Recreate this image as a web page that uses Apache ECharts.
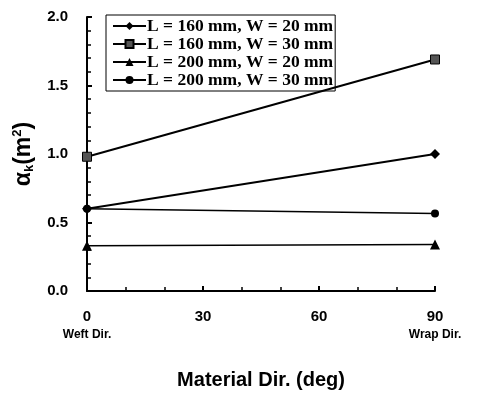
<!DOCTYPE html>
<html><head><meta charset="utf-8">
<script src="https://cdn.jsdelivr.net/npm/echarts@6/dist/echarts.min.js"></script>
<style>html,body{margin:0;padding:0;background:#fff}#c{width:479px;height:395px}</style>
</head><body><div id="c"></div>
<script>
const xValues = [0, 90];
const seriesNames = ['L = 160 mm, W = 20 mm','L = 160 mm, W = 30 mm','L = 200 mm, W = 20 mm','L = 200 mm, W = 30 mm'];
const s1 = [0.60, 1.00];
const s2 = [0.98, 1.69];
const s3 = [0.33, 0.34];
const s4 = [0.60, 0.565];
const symbols = ['diamond','rect','triangle','circle'];
const symbolColors = ['#000','#555','#000','#000'];
const allData = [s1,s2,s3,s4];

const chart = echarts.init(document.getElementById('c'));
chart.setOption({
  animation:false,
  grid:{left:87,right:44,top:17,bottom:91},
  legend:{
    orient:'vertical', left:106, top:15,
    borderColor:'#000', borderWidth:1, padding:[2,2,2,6], itemGap:0,
    itemWidth:33, itemHeight:10,
    textStyle:{fontFamily:'Liberation Serif',fontWeight:'bold',fontSize:17.5,color:'#000',padding:[0,0,0,-4],lineHeight:18},
    data:seriesNames
  },
  xAxis:{
    type:'value',min:0,max:90,interval:30,
    name:'Material Dir. (deg)',nameLocation:'middle',nameGap:79,
    nameTextStyle:{fontFamily:'Liberation Sans',fontWeight:'bold',fontSize:20,color:'#000'},
    axisLine:{lineStyle:{color:'#000',width:2}},
    axisTick:{inside:true,length:5,lineStyle:{color:'#000',width:2}},
    minorTick:{show:true,splitNumber:3,length:4,lineStyle:{color:'#000',width:1.5}},
    splitLine:{show:false},
    axisLabel:{margin:18,color:'#000',fontFamily:'Liberation Sans',fontWeight:'bold',fontSize:15,
      formatter:function(v){ if(v===0) return '0\n{s|Weft Dir.}'; if(v===90) return '90\n{s|Wrap Dir.}'; return String(v);},
      rich:{s:{fontFamily:'Liberation Sans',fontWeight:'bold',fontSize:12,color:'#000',padding:[5,0,0,0]}}}
  },
  yAxis:{
    type:'value',min:0,max:2.0,interval:0.5,
    name:'{a|α}{k|k}{a|(m}{s|2}{a|)}',nameLocation:'middle',nameGap:50,
    nameTextStyle:{rich:{
      a:{fontFamily:'Liberation Sans',fontWeight:'bold',fontSize:23,color:'#000'},
      k:{fontFamily:'Liberation Sans',fontWeight:'bold',fontSize:13,color:'#000',verticalAlign:'bottom',padding:[12,0,0,0]},
      s:{fontFamily:'Liberation Sans',fontWeight:'bold',fontSize:13,color:'#000',verticalAlign:'top',padding:[0,0,12,0]}
    }},
    axisLine:{show:true,lineStyle:{color:'#000',width:2}},
    axisTick:{inside:true,length:5,lineStyle:{color:'#000',width:2}},
    minorTick:{show:true,splitNumber:5,length:4,lineStyle:{color:'#000',width:1.5}},
    splitLine:{show:false},
    axisLabel:{margin:19,color:'#000',fontFamily:'Liberation Sans',fontWeight:'bold',fontSize:15,
      formatter:function(v){return v.toFixed(1);}}
  },
  series: seriesNames.map((n,i)=>({
    name:n,type:'line',
    data:xValues.map((x,j)=>[x,allData[i][j]]),
    symbol:symbols[i],symbolSize:[10,9,10,8][i],
    itemStyle:{color:symbolColors[i],borderColor:'#000',borderWidth:i===1?1:0},
    lineStyle:{color:'#000',width:i===0||i===1?2:1.5}
  }))
});
</script></body></html>
